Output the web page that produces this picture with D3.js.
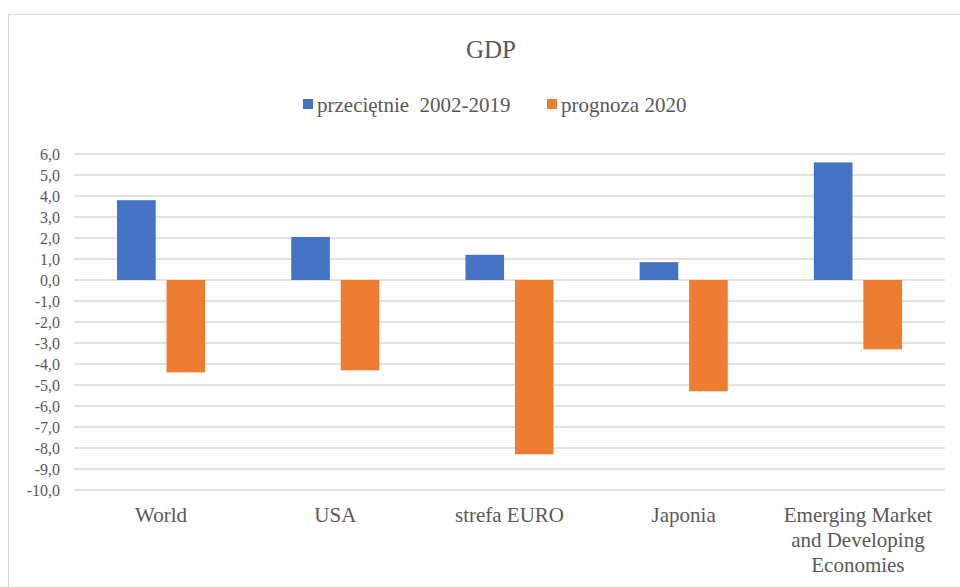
<!DOCTYPE html>
<html>
<head>
    <meta charset="utf-8">
    <title>GDP</title>
    <script src="https://d3js.org/d3.v7.min.js"></script>
    <style>
        body { margin: 0; background: #fff; }
    </style>
</head>
<body>
<script>
    // data
    let categories = [["World"], ["USA"], ["strefa EURO"], ["Japonia"], ["Emerging Market", "and Developing", "Economies"]];
    let seriesNames = ["przeciętnie  2002-2019", "prognoza 2020"];
    let avg = [3.8, 2.05, 1.2, 0.85, 5.6];
    let forecast = [-4.4, -4.3, -8.3, -5.3, -3.3];
    let yTicks = d3.range(-10, 7, 1);
    let colors = ["#4472c4", "#ed7d31"];

    let W = 960, H = 587;
    let serif = "Liberation Serif";
    let textColor = "#595959";
    let svg = d3.select('body').append('svg').attr("width", W).attr("height", H);

    // chart frame
    svg.append("rect").attr("x", 8.5).attr("y", 14.5).attr("width", 1000).attr("height", 1000)
        .attr("fill", "none").attr("stroke", "#d9d9d9").attr("stroke-width", 1);

    let keys = categories.map(d => d.join(" "));
    let x0 = d3.scaleBand().domain(keys).range([74, 945]);
    let x1 = d3.scaleBand().domain([0, 1]).range([0, x0.bandwidth()]).paddingInner(0.22).paddingOuter(0.87);
    let y = d3.scaleLinear().domain([-10, 6]).range([490, 154]);

    // gridlines
    svg.append("g").selectAll("line").data(yTicks).enter()
        .append("line")
        .attr("x1", 74).attr("x2", 945)
        .attr("y1", d => y(d)).attr("y2", d => y(d))
        .attr("stroke", "#d9d9d9").attr("stroke-width", 1.5);

    // y labels
    let yAxis = d3.axisLeft(y).tickValues(yTicks).tickSize(0).tickPadding(0)
        .tickFormat(d => d3.format(".1f")(d).replace(".", ",").replace("−", "-"));
    let ya = svg.append("g").attr("transform", "translate(60,0)").call(yAxis)
        .attr("font-family", serif).attr("font-size", 16);
    ya.select(".domain").remove();
    ya.selectAll("text").attr("fill", textColor).attr("font-family", serif).attr("font-size", 16);

    // bars
    let rows = keys.map((k, i) => ({key: k, vals: [avg[i], forecast[i]]}));
    let groups = svg.append("g").selectAll("g").data(rows).enter()
        .append("g").attr("transform", d => "translate(" + x0(d.key) + ",0)");
    groups.selectAll("rect").data(d => d.vals).enter()
        .append("rect")
        .attr("x", (d, i) => x1(i))
        .attr("width", x1.bandwidth())
        .attr("y", d => y(Math.max(0, d)))
        .attr("height", d => Math.abs(y(d) - y(0)))
        .attr("fill", (d, i) => colors[i]);

    // category labels, one text per line
    categories.forEach((lines, i) => {
        lines.forEach((line, j) => {
            svg.append("text")
                .attr("x", x0(keys[i]) + x0.bandwidth() / 2)
                .attr("y", 522 + j * 25)
                .attr("text-anchor", "middle")
                .attr("font-family", serif)
                .attr("font-size", 21)
                .attr("fill", textColor)
                .text(line);
        });
    });

    // title
    svg.append("text").attr("x", 491).attr("y", 58).attr("text-anchor", "middle")
        .attr("font-family", serif).attr("fill", textColor)
        .attr("font-size", 25).text("GDP");

    // legend
    let legX = [303, 547];
    let leg = svg.append("g").selectAll("g").data(seriesNames).enter()
        .append("g").attr("transform", (d, i) => "translate(" + legX[i] + ",0)");
    leg.append("rect").attr("x", 0).attr("y", 99).attr("width", 10).attr("height", 10)
        .attr("fill", (d, i) => colors[i]);
    leg.append("text").attr("x", 14).attr("y", 112).attr("font-size", 21)
        .attr("font-family", serif).attr("fill", textColor)
        .style("white-space", "pre").text(d => d);
</script>
</body>
</html>
